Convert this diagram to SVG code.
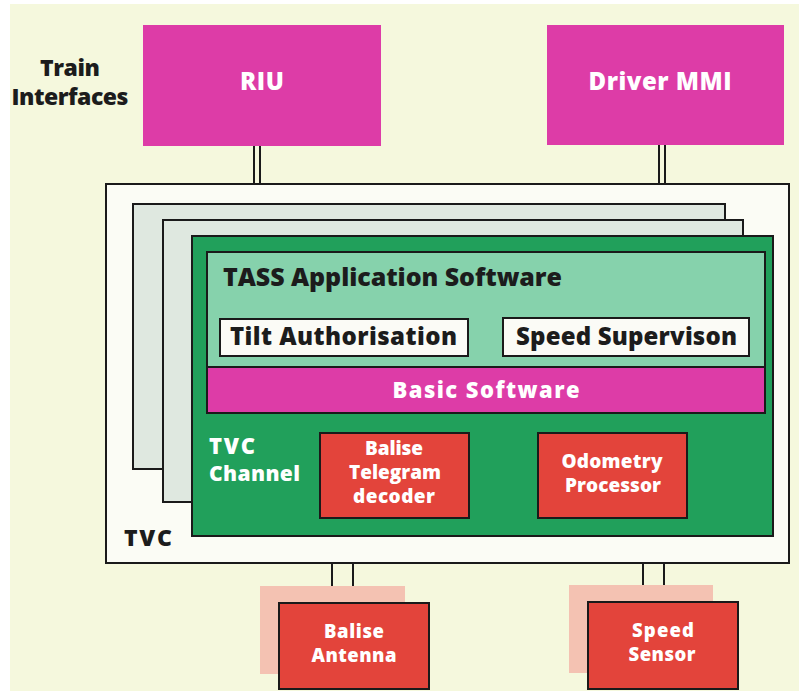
<svg xmlns="http://www.w3.org/2000/svg" width="799" height="691" viewBox="0 0 799 691">
  <style>
    text { font-family: "Open Sans", "Liberation Sans", sans-serif; font-weight: 800; }
    .dark { fill: #1c1c1c; }
    .light { fill: #ffffff; }
    .mid { text-anchor: middle; }
    .edge { stroke: #1a1a1a; stroke-width: 2; }
    .magenta { fill: #dd3ca7; }
    .red { fill: #e3443b; }
    .sheet { fill: #dfe8e0; }
    .shadow { fill: #f4c2b2; }
    .wire { stroke: #1a1a1a; stroke-width: 2; fill: none; }
  </style>

  <!-- paper -->
  <rect x="0" y="0" width="799" height="691" fill="#ffffff"/>
  <rect x="10" y="4" width="789" height="687" fill="#f5f8dd"/>

  <!-- double-line links -->
  <g id="connectors">
    <line class="wire" x1="254" y1="146" x2="254" y2="185"/>
    <line class="wire" x1="260" y1="146" x2="260" y2="185"/>
    <line class="wire" x1="659" y1="145" x2="659" y2="185"/>
    <line class="wire" x1="665" y1="145" x2="665" y2="185"/>
    <line class="wire" x1="332" y1="562" x2="332" y2="587"/>
    <line class="wire" x1="353" y1="562" x2="353" y2="587"/>
    <line class="wire" x1="643" y1="562" x2="643" y2="586"/>
    <line class="wire" x1="664" y1="562" x2="664" y2="586"/>
  </g>

  <g id="train-interfaces-label">
    <text class="dark mid" x="70" y="76" font-size="23" textLength="60">Train</text>
    <text class="dark mid" x="70" y="105" font-size="23" textLength="117">Interfaces</text>
  </g>

  <g id="riu">
    <rect class="magenta" x="143" y="25" width="238" height="121"/>
    <text class="light mid" x="262" y="90" font-size="24" textLength="44">RIU</text>
  </g>

  <g id="driver-mmi">
    <rect class="magenta" x="547" y="25" width="237" height="120"/>
    <text class="light mid" x="660" y="90" font-size="24" textLength="143">Driver MMI</text>
  </g>

  <g id="tvc">
    <rect class="edge" x="106" y="184" width="683" height="379" fill="#fbfcf5"/>
    <text class="dark" x="124" y="546" font-size="23" textLength="48">TVC</text>
  </g>

  <g id="tvc-channel-stack">
    <rect class="sheet edge" x="133" y="204" width="592" height="265"/>
    <rect class="sheet edge" x="163" y="220" width="580" height="282"/>
  </g>

  <g id="tvc-channel">
    <rect class="edge" x="192" y="236" width="581" height="300" fill="#21a05b"/>
    <text class="light" x="209" y="454" font-size="22" textLength="46">TVC</text>
    <text class="light" x="209" y="481" font-size="21" textLength="91">Channel</text>
  </g>

  <g id="tass-application-software">
    <rect class="edge" x="207" y="252" width="558" height="116" fill="#86d2ac"/>
    <text class="dark" x="223" y="286" font-size="25" textLength="339">TASS Application Software</text>
  </g>

  <g id="tilt-authorisation">
    <rect class="edge" x="220" y="319" width="248" height="37" fill="#fbfbf6"/>
    <text class="dark" x="230" y="345" font-size="24" textLength="227">Tilt Authorisation</text>
  </g>

  <g id="speed-supervision">
    <rect class="edge" x="503" y="318" width="246" height="38" fill="#fbfbf6"/>
    <text class="dark" x="516" y="345" font-size="24" textLength="221">Speed Supervison</text>
  </g>

  <g id="basic-software">
    <rect class="magenta edge" x="207" y="367" width="558" height="46"/>
    <text class="light mid" x="486" y="398" font-size="22" textLength="187">Basic Software</text>
  </g>

  <g id="balise-telegram-decoder">
    <rect class="red edge" x="320" y="433" width="149" height="85"/>
    <text class="light mid" x="394" y="455" font-size="19" textLength="58">Balise</text>
    <text class="light mid" x="395" y="479" font-size="19" textLength="92">Telegram</text>
    <text class="light mid" x="394" y="503" font-size="19" textLength="82">decoder</text>
  </g>

  <g id="odometry-processor">
    <rect class="red edge" x="538" y="433" width="149" height="85"/>
    <text class="light mid" x="612" y="468" font-size="19" textLength="101">Odometry</text>
    <text class="light mid" x="613" y="492" font-size="19" textLength="96">Processor</text>
  </g>

  <g id="balise-antenna">
    <rect class="shadow" x="260" y="586" width="145" height="88"/>
    <rect class="red edge" x="279" y="603" width="150" height="86"/>
    <text class="light mid" x="354" y="638" font-size="18.5" textLength="60">Balise</text>
    <text class="light mid" x="354" y="662" font-size="18.5" textLength="85">Antenna</text>
  </g>

  <g id="speed-sensor">
    <rect class="shadow" x="569" y="585" width="144" height="88"/>
    <rect class="red edge" x="588" y="602" width="150" height="87"/>
    <text class="light mid" x="663" y="637" font-size="18.5" textLength="62">Speed</text>
    <text class="light mid" x="662" y="661" font-size="18.5" textLength="67">Sensor</text>
  </g>
</svg>
